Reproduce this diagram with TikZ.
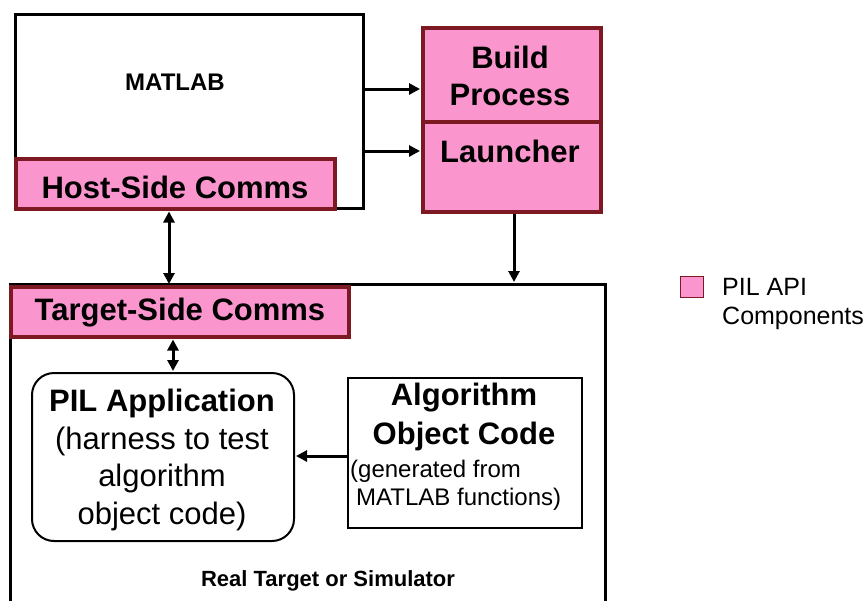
\documentclass[tikz,border=0pt]{standalone}
\usepackage{fontspec}
\setmainfont{Liberation Sans}
\usetikzlibrary{arrows.meta,calc}
\definecolor{pilpink}{RGB}{250,150,205}
\definecolor{pilborder}{RGB}{125,25,35}
\begin{document}
\begin{tikzpicture}[x=1pt,y=-1pt,
  blackbox/.style={draw=black,line width=3pt,fill=white,inner sep=0pt,anchor=north west},
  pinkbox/.style={draw=pilborder,line width=3.5pt,fill=pilpink,inner sep=0pt,anchor=north west},
  boldtxt/.style={font=\fontsize{31}{38}\selectfont\bfseries,inner sep=0pt},
  regtxt/.style={font=\fontsize{31}{38}\selectfont,inner sep=0pt},
  smalltxt/.style={font=\fontsize{24}{28}\selectfont,inner sep=0pt},
  tip/.tip={Triangle[length=11pt,width=11pt]},
  arr/.style={line width=3pt,-tip,shorten >=1pt},
  darr/.style={line width=3pt,tip-tip,shorten >=1pt,shorten <=1pt},
]
\clip (0,0) rectangle (867,600);
\fill[white] (0,0) rectangle (867,600);
% helper coordinates
\path (0,89) coordinate (y1) (0,151) coordinate (y2) (0,456) coordinate (y3)
      (169,0) coordinate (x1) (173,0) coordinate (x2) (514,0) coordinate (x3);

% MATLAB host
\node[blackbox, minimum width=348, minimum height=194] (matlab) at (14,13) {};
\node[font=\fontsize{24}{28}\selectfont\bfseries] (mlabel) at (175,82) {MATLAB};
\node[pinkbox, minimum width=319, minimum height=50] (host) at (14,157) {};
\node[boldtxt] (hosttxt) at (175,187) {Host-Side Comms};

% build / launcher
\node[pinkbox, minimum width=178, minimum height=94] (build) at (421,26) {};
\node[boldtxt] (build1) at (510,57) {Build};
\node[boldtxt] (build2) at (510,95) {Process};
\node[pinkbox, minimum width=178, minimum height=90] (launch) at (421,120) {};
\node[boldtxt] (launchtxt) at (510,151) {Launcher};

% target
\node[blackbox, minimum width=595, minimum height=340] (target) at (9,283) {};
\node[pinkbox, minimum width=338, minimum height=50] (tcomm) at (9,285) {};
\node[boldtxt] (tcommtxt) at (180,313) {Target-Side Comms};

% PIL application
\node[draw, line width=2pt, rounded corners=22pt, fill=white, minimum width=262, minimum height=168, anchor=north west] (pil) at (31,372) {};
\node[boldtxt] (pil1) at (162,403) {PIL Application};
\node[regtxt] (pil2) at (162,441) {(harness to test};
\node[regtxt] (pil3) at (162,478) {algorithm};
\node[regtxt] (pil4) at (162,516) {object code)};

% algorithm object code
\node[draw, line width=1.5pt, fill=white, minimum width=234, minimum height=150, anchor=north west] (algo) at (347,377) {};
\node[boldtxt] (alg1) at (464,398) {Algorithm};
\node[boldtxt] (alg2) at (464,436) {Object Code};
\node[smalltxt, anchor=west] (alg3) at (350,471) {(generated from};
\node[smalltxt, anchor=west] (alg4) at (356,499) {MATLAB functions)};

\node[font=\fontsize{22}{26}\selectfont\bfseries] (rts) at (328,581) {Real Target or Simulator};

% legend
\node[draw=pilborder, line width=1.2pt, fill=pilpink, minimum width=23, minimum height=21, anchor=north west, inner sep=0pt] (legsq) at (680,276) {};
\node[anchor=north west, align=left, font=\fontsize{25}{29}\selectfont, inner sep=0pt] (legtxt) at (722,278) {PIL API\\Components};

% connectors
\draw[arr] (matlab.east |- y1) -- (build.west |- y1);
\draw[arr] (matlab.east |- y2) -- (launch.west |- y2);
\draw[arr] (launch.south -| x3) -- (target.north -| x3);
\draw[darr] (host.south -| x1) -- (tcomm.north -| x1);
\draw[darr] (tcomm.south -| x2) -- (pil.north -| x2);
\draw[arr] (algo.west |- y3) -- (pil.east |- y3);
\end{tikzpicture}
\end{document}
